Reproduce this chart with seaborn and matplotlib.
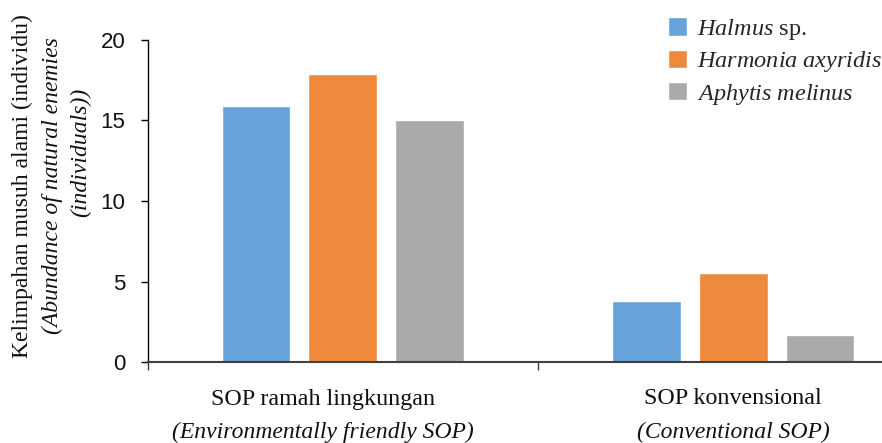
import matplotlib
matplotlib.use("Agg")
import matplotlib.pyplot as plt
import matplotlib.transforms as mtransforms
import seaborn as sns
import pandas as pd

# Data: abundance of natural enemies (individuals) under two SOP treatments
groups = ["SOP ramah lingkungan", "SOP konvensional"]
groups_en = ["(Environmentally friendly SOP)", "(Conventional SOP)"]
species = ["Halmus sp.", "Harmonia axyridis", "Aphytis melinus"]
species_labels = [r"$\mathit{Halmus}$ sp.", r"$\mathit{Harmonia\ axyridis}$",
                  r"$\mathit{Aphytis\ melinus}$"]
halmus = [15.9, 3.8]
harmonia = [17.9, 5.5]
aphytis = [15.0, 1.65]
colors = ["#65A3DA", "#EF8A3C", "#AAAAAA"]
yticks = [0, 5, 10, 15, 20]

sns.set_theme(style="white")
plt.rcParams["font.family"] = ["Liberation Sans", "DejaVu Sans"]
plt.rcParams["mathtext.fontset"] = "custom"
plt.rcParams["mathtext.rm"] = "Liberation Serif"
plt.rcParams["mathtext.it"] = "Liberation Serif:italic"

df = pd.DataFrame({
    "group": groups * 3,
    "species": [species[0]] * 2 + [species[1]] * 2 + [species[2]] * 2,
    "value": halmus + harmonia + aphytis,
})

fig = plt.figure(figsize=(8.82, 4.43), dpi=100)
ax = fig.add_axes([147.5 / 882, 1 - 362 / 443, 781 / 882, 322 / 443])

sns.barplot(data=df, x="group", y="value", hue="species", hue_order=species,
            palette=colors, width=0.667, gap=0.21, saturation=1,
            errorbar=None, ax=ax, legend=True)

ax.set_xlim(-0.5, 1.5)
ax.set_ylim(0, 20)
ax.set_yticks(yticks)
ax.set_yticklabels([str(v) for v in yticks], fontsize=16, color="#111111")
ax.tick_params(axis="y", direction="out", length=5, width=1, pad=11,
               left=True, color="black")

# category boundaries carry the x ticks; labels are drawn as text below
ax.set_xticks([-0.5, 0.5, 1.5])
ax.set_xticklabels([])
ax.tick_params(axis="x", direction="out", length=6, width=1, bottom=True,
               color="#404040")
ax.set_xlabel("")
ax.set_ylabel("")

for side in ["top", "right"]:
    ax.spines[side].set_visible(False)
ax.spines["left"].set_color("black")
ax.spines["left"].set_linewidth(1.0)
ax.spines["bottom"].set_color("#404040")
ax.spines["bottom"].set_linewidth(1.5)

serif = "Liberation Serif"

# two-line category labels (Indonesian + English in italics)
trans = mtransforms.blended_transform_factory(ax.transData, fig.transFigure)
label_x = [-0.05, 0.0]
for i in range(len(groups)):
    ax.text(i + label_x[i], 1 - 399 / 443, groups[i], transform=trans,
            ha="center", va="center", fontsize=17.3,
            family=serif, color="#111111")
    ax.text(i + label_x[i], 1 - 432 / 443, groups_en[i], transform=trans,
            ha="center", va="center", fontsize=17, style="italic",
            family=serif, color="#111111")

# three-line y-axis title
fig.text(22 / 882, 1 - 186 / 443, "Kelimpahan musuh alami (individu)",
         rotation=90, ha="center", va="center", fontsize=17,
         family=serif, color="#111111")
fig.text(52 / 882, 1 - 186 / 443, "(Abundance of natural enemies",
         rotation=90, ha="center", va="center", fontsize=17, style="italic",
         family=serif, color="#111111")
fig.text(81 / 882, 1 - 152 / 443, "(individuals))",
         rotation=90, ha="center", va="center", fontsize=17, style="italic",
         family=serif, color="#111111")

handles, _ = ax.get_legend_handles_labels()
ax.legend(handles, species_labels, loc="upper left",
          bbox_to_anchor=(668 / 882, 1 - 17 / 443), bbox_transform=fig.transFigure,
          frameon=False, prop={"family": serif, "size": 17.5},
          handlelength=0.8, handleheight=0.8,
          handletextpad=0.4, labelspacing=0.3, borderaxespad=0, borderpad=0)

fig.savefig("out.png", dpi=100)
